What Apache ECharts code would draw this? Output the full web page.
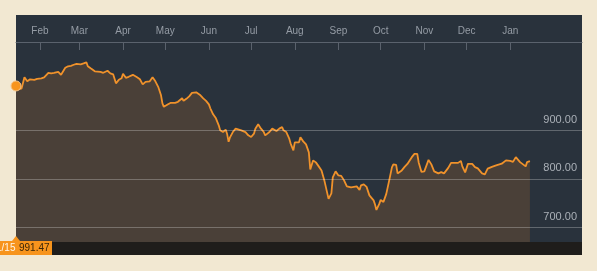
<!DOCTYPE html>
<html>
<head>
<meta charset="utf-8">
<script src="https://cdn.jsdelivr.net/npm/echarts@6/dist/echarts.min.js"></script>
<style>
html,body{margin:0;padding:0;background:#f2e8d2;}
#c{width:597px;height:271px;}
</style>
</head>
<body>
<div id="c"></div>
<script>
const dates = [
'2015-01-15','2015-01-17','2015-01-19','2015-01-21','2015-01-23','2015-01-25','2015-01-28','2015-01-30',
'2015-02-02','2015-02-04','2015-02-07','2015-02-09','2015-02-11','2015-02-14','2015-02-16','2015-02-19','2015-02-21','2015-02-23','2015-02-25','2015-02-27',
'2015-03-02','2015-03-04','2015-03-06','2015-03-07','2015-03-09','2015-03-12','2015-03-16','2015-03-18','2015-03-19','2015-03-21','2015-03-23','2015-03-25','2015-03-27','2015-03-29','2015-03-31',
'2015-04-01','2015-04-03','2015-04-05','2015-04-06','2015-04-08','2015-04-11','2015-04-13','2015-04-15','2015-04-17','2015-04-20','2015-04-22','2015-04-24','2015-04-26','2015-04-28','2015-04-29','2015-04-30',
'2015-05-03','2015-05-05','2015-05-08','2015-05-10','2015-05-13','2015-05-14','2015-05-16','2015-05-18','2015-05-20','2015-05-23','2015-05-24','2015-05-26','2015-05-28','2015-05-30',
'2015-06-01','2015-06-02','2015-06-04','2015-06-06','2015-06-08','2015-06-09','2015-06-11','2015-06-13','2015-06-14','2015-06-15','2015-06-16','2015-06-18','2015-06-20','2015-06-24','2015-06-27','2015-06-29',
'2015-07-01','2015-07-03','2015-07-04','2015-07-06','2015-07-08','2015-07-10','2015-07-11','2015-07-14','2015-07-15','2015-07-16','2015-07-19','2015-07-21','2015-07-23','2015-07-24','2015-07-26','2015-07-28','2015-07-29','2015-07-31',
'2015-08-01','2015-08-04','2015-08-05','2015-08-07','2015-08-09','2015-08-11','2015-08-12','2015-08-14','2015-08-16','2015-08-18','2015-08-20','2015-08-22','2015-08-25','2015-08-27','2015-08-28','2015-08-30',
'2015-09-01','2015-09-03','2015-09-05','2015-09-07','2015-09-10','2015-09-12','2015-09-14','2015-09-16','2015-09-17','2015-09-19','2015-09-21','2015-09-23','2015-09-26','2015-09-27','2015-09-28','2015-09-30',
'2015-10-01','2015-10-03','2015-10-05','2015-10-07','2015-10-09','2015-10-10','2015-10-12','2015-10-13','2015-10-16','2015-10-18','2015-10-20','2015-10-23','2015-10-25','2015-10-27','2015-10-28','2015-10-30',
'2015-11-01','2015-11-02','2015-11-04','2015-11-06','2015-11-08','2015-11-11','2015-11-13','2015-11-15','2015-11-18','2015-11-20','2015-11-23','2015-11-25','2015-11-27','2015-11-28','2015-11-30',
'2015-12-02','2015-12-03','2015-12-05','2015-12-07','2015-12-09','2015-12-12','2015-12-14','2015-12-16','2015-12-19','2015-12-22','2015-12-26','2015-12-29',
'2016-01-01','2016-01-03','2016-01-05','2016-01-08','2016-01-09','2016-01-12','2016-01-13','2016-01-15'
];
const values = [
991.47,984.5,986.6,1009.3,1001.0,1005.2,1004.1,1006.2,
1007.2,1009.3,1018.6,1017.5,1018.6,1020.6,1014.4,1028.9,1032.0,1033.0,1035.1,1037.1,
1036.1,1038.1,1040.2,1032.0,1027.8,1021.7,1020.6,1018.6,1017.5,1022.7,1017.5,1015.5,996.9,1004.1,1007.2,
1016.5,1008.2,1010.3,1012.4,1014.4,1009.3,1005.2,994.8,1000.0,1001.0,1009.3,1001.0,989.7,972.2,955.7,948.5,
953.6,956.7,956.7,958.8,966.0,960.8,964.9,970.1,977.3,978.4,975.3,972.2,966.0,960.8,
953.6,945.4,933.0,924.7,910.3,900.0,896.5,901.4,891.8,876.3,885.6,896.5,903.5,900.0,896.5,889.7,
886.2,893.2,903.5,912.4,903.5,896.5,889.7,896.5,898.6,903.5,898.6,903.5,906.8,900.0,896.5,883.5,873.2,858.8,
875.3,875.3,885.6,877.3,871.1,854.6,819.6,838.1,834.0,825.8,817.5,796.9,758.8,770.1,803.1,815.5,
807.2,806.2,796.9,784.5,782.5,783.5,784.5,777.3,786.6,788.7,783.5,766.0,755.7,747.4,736.1,748.5,
756.7,752.6,769.1,795.9,823.7,829.9,828.9,811.3,817.5,824.7,830.9,844.3,851.5,851.5,834.0,814.4,
815.5,817.5,839.2,829.9,815.5,811.3,814.0,811.3,822.7,833.0,833.0,833.0,837.1,825.8,813.4,
830.9,827.8,830.9,824.3,821.6,811.3,809.3,821.0,824.7,827.8,831.3,838.1,
837.1,835.0,844.9,834.6,838.1,825.8,834.6,836.7
];
const yTicks = [700, 800, 900];
const monthTicks = ['2015-02-01','2015-03-01','2015-04-01','2015-05-01','2015-06-01','2015-07-01','2015-08-01','2015-09-01','2015-10-01','2015-11-01','2015-12-01','2016-01-01'];
const monthNames = ['Jan','Feb','Mar','Apr','May','Jun','Jul','Aug','Sep','Oct','Nov','Dec'];
const xStart = '2015-01-15';
const xEnd = '2016-02-21';
const startLabel = '1/15';
const startValueLabel = '991.47';

function toTime(s) {
  const p = s.split('-').map(Number);
  return new Date(p[0], p[1] - 1, p[2]).getTime();
}

const chart = echarts.init(document.getElementById('c'));
const seriesData = dates.map((d, i) => [toTime(d), values[i]]);
const tickTimes = monthTicks.map(toTime);
const FONT = 'Liberation Sans, Arial, sans-serif';

chart.setOption({
  animation: false,
  backgroundColor: '#f2e8d2',
  grid: { left: 16, right: 15, top: 42, bottom: 29 },
  xAxis: {
    type: 'value',
    position: 'top',
    min: toTime(xStart),
    max: toTime(xEnd),
    axisLine: { show: true, lineStyle: { color: '#5a626d', width: 1 } },
    axisTick: { show: true, inside: true, length: 8, customValues: tickTimes, lineStyle: { color: '#5a626d' } },
    axisLabel: {
      customValues: tickTimes,
      color: '#959ca5', fontSize: 10, fontFamily: FONT, margin: 6,
      formatter: v => monthNames[new Date(v).getMonth()]
    },
    splitLine: { show: false }
  },
  yAxis: {
    type: 'value',
    min: 670,
    max: 1082,
    axisLine: { show: false },
    axisTick: { show: false },
    axisLabel: { show: false },
    splitLine: { show: false }
  },
  graphic: [
    { type: 'rect', z: -1, silent: true, shape: { x: 16, y: 15, width: 566, height: 240 }, style: { fill: '#29323c' } },
    { type: 'rect', z: 100, silent: true, shape: { x: 16, y: 242, width: 566, height: 13 }, style: { fill: '#1f1d1b' } },
    { type: 'rect', z: 101, silent: true, shape: { x: 0, y: 241, width: 52, height: 14 }, style: { fill: '#f7941d' } },
    { type: 'polygon', z: 101, silent: true, shape: { points: [[12, 241], [16, 236], [20, 241]] }, style: { fill: '#f7941d' } },
    { type: 'text', z: 102, silent: true, style: { text: startLabel, x: -4, y: 248.5, fill: '#fff5e6', font: '10px ' + FONT, verticalAlign: 'middle' } },
    { type: 'text', z: 102, silent: true, style: { text: startValueLabel, x: 19, y: 248.5, fill: '#3b2608', font: '10px ' + FONT, verticalAlign: 'middle' } }
  ],
  series: [{
    type: 'line',
    data: seriesData,
    showSymbol: false,
    lineStyle: { color: '#f0922b', width: 1.8 },
    areaStyle: { color: '#4a4038', opacity: 1, origin: 'start' },
    z: 2,
    markLine: {
      silent: true,
      symbol: ['none', 'none'],
      lineStyle: { color: 'rgba(255,255,255,0.26)', type: 'solid', width: 1 },
      label: {
        position: 'insideEndTop', color: '#aab0b7', fontSize: 11, fontFamily: FONT,
        formatter: p => Number(p.value).toFixed(2)
      },
      emphasis: { disabled: true },
      data: yTicks.map(v => ({ yAxis: v }))
    },
    markPoint: {
      silent: true,
      symbol: 'circle',
      symbolSize: 10,
      itemStyle: { color: '#f7941d', borderColor: '#f5c58a', borderWidth: 1 },
      label: { show: false },
      data: [{ coord: [seriesData[0][0], values[0]] }]
    }
  }]
});
</script>
</body>
</html>
